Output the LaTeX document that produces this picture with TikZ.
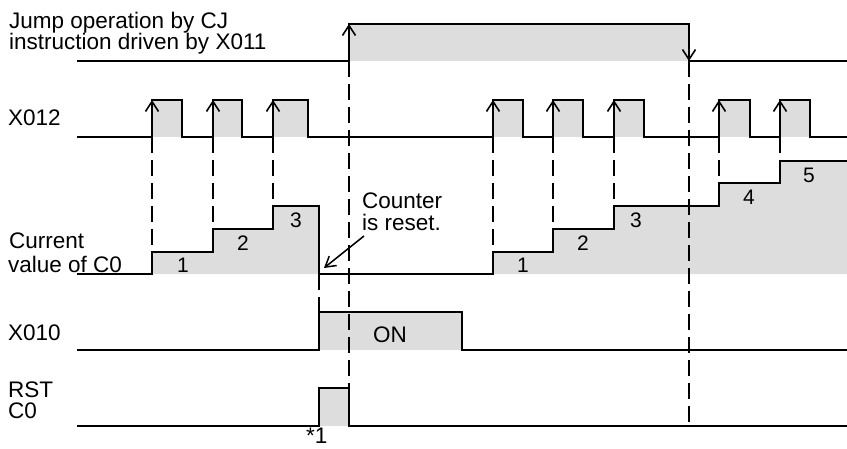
\documentclass[tikz,border=0pt]{standalone}
\usepackage{fontspec}
\setmainfont{Liberation Sans}
\usetikzlibrary{arrows.meta}
\definecolor{fillgray}{HTML}{DDDDDD}
\begin{document}
\begin{tikzpicture}[x=1pt,y=-1pt,
  wave/.style={draw=black, line width=2pt, line join=miter},
  shade/.style={fill=fillgray, draw=none},
  dashline/.style={draw=black, line width=2pt, dash pattern=on 16pt off 7pt},
  edgearrow/.style={line width=2pt, -{Straight Barb[length=10pt,width=13pt,line width=1.6pt]}},
  lbl/.style={anchor=base west, inner sep=0pt, font=\fontsize{22.5}{26}\selectfont},
  num/.style={anchor=base, inner sep=0pt, font=\fontsize{21}{24}\selectfont}]
\useasboundingbox (0,0) rectangle (847,448);

% ---------- fills ----------
\fill[shade] (349,24) rectangle (689,61);
\foreach \a/\b in {152/182,213/242,273/308,493/523,553/583,614/644,719/750,780/810}
  \fill[shade] (\a,100) rectangle (\b,137);
\fill[shade] (152,274) -- (152,252) -- (213,252) -- (213,229) -- (273,229) -- (273,206) -- (319,206) -- (319,274) -- cycle;
\fill[shade] (493,274) -- (493,252) -- (553,252) -- (553,229) -- (614,229) -- (614,206) -- (719,206) -- (719,183) -- (780,183) -- (780,161) -- (847,161) -- (847,274) -- cycle;
\fill[shade] (319,312) rectangle (462,350);
\fill[shade] (319,388) rectangle (349,426);

% ---------- dashed guide lines ----------
\foreach \x/\y in {152/252,213/229,273/206,493/252,553/229,614/206,719/183,780/161}
  \draw[dashline] (\x,137) -- (\x,\y);
\draw[dashline] (349,61) -- (349,388);
\draw[dashline] (689,61) -- (689,426);
\draw[dashline] (319,274) -- (319,312);

% ---------- waveforms ----------
\draw[wave] (77,61) -- (349,61) -- (349,24) -- (689,24) -- (689,61) -- (847,61);
\draw[wave] (77,137) -- (152,137) -- (152,100) -- (182,100) -- (182,137)
  -- (213,137) -- (213,100) -- (242,100) -- (242,137)
  -- (273,137) -- (273,100) -- (308,100) -- (308,137)
  -- (493,137) -- (493,100) -- (523,100) -- (523,137)
  -- (553,137) -- (553,100) -- (583,100) -- (583,137)
  -- (614,137) -- (614,100) -- (644,100) -- (644,137)
  -- (719,137) -- (719,100) -- (750,100) -- (750,137)
  -- (780,137) -- (780,100) -- (810,100) -- (810,137) -- (847,137);
\draw[wave] (77,274) -- (152,274) -- (152,252) -- (213,252) -- (213,229) -- (273,229) -- (273,206) -- (319,206) -- (319,274)
  -- (493,274) -- (493,252) -- (553,252) -- (553,229) -- (614,229) -- (614,206) -- (719,206) -- (719,183) -- (780,183) -- (780,161) -- (847,161);
\draw[wave] (77,350) -- (319,350) -- (319,312) -- (462,312) -- (462,350) -- (847,350);
\draw[wave] (77,426) -- (319,426) -- (319,388) -- (349,388) -- (349,426) -- (847,426);

% ---------- edge arrows ----------
\draw[edgearrow] (349,40) -- (349,24);
\draw[edgearrow] (689,45) -- (689,61);
\foreach \x in {152,213,273,493,553,614,719,780}
  \draw[edgearrow] (\x,116) -- (\x,100);

% ---------- counter reset arrow ----------
\coordinate (ctail) at (364,236);
\coordinate (chead) at (324,268);
\draw[line width=1.5pt, -{Straight Barb[length=10pt,width=12pt,line width=1.5pt]}] (ctail) -- (chead);

% ---------- labels ----------
\node[lbl] (jump1) at (9,28) {Jump operation by CJ};
\node[lbl] (jump2) at (9,49) {instruction driven by X011};
\node[lbl] (x012) at (8,125) {X012};
\node[lbl] (cur1) at (9,248) {Current};
\node[lbl] (cur2) at (8,272) {value of C0};
\node[lbl] (x010) at (8,340) {X010};
\node[lbl] (rst1) at (8,397) {RST};
\node[lbl] (rst2) at (8,418) {C0};
\node[lbl] (star) at (306,443) {*1};
\node[lbl] (on) at (373,342) {ON};
\node[lbl] (cnt1) at (362,208) {Counter};
\node[lbl] (cnt2) at (362,230) {is reset.};

\node[num] (n1) at (183,272) {1};
\node[num] (n2) at (243,250) {2};
\node[num] (n3) at (296,227) {3};
\node[num] (n4) at (523,272) {1};
\node[num] (n5) at (583,250) {2};
\node[num] (n6) at (636,227) {3};
\node[num] (n7) at (749,204) {4};
\node[num] (n8) at (809,182) {5};
\end{tikzpicture}
\end{document}
